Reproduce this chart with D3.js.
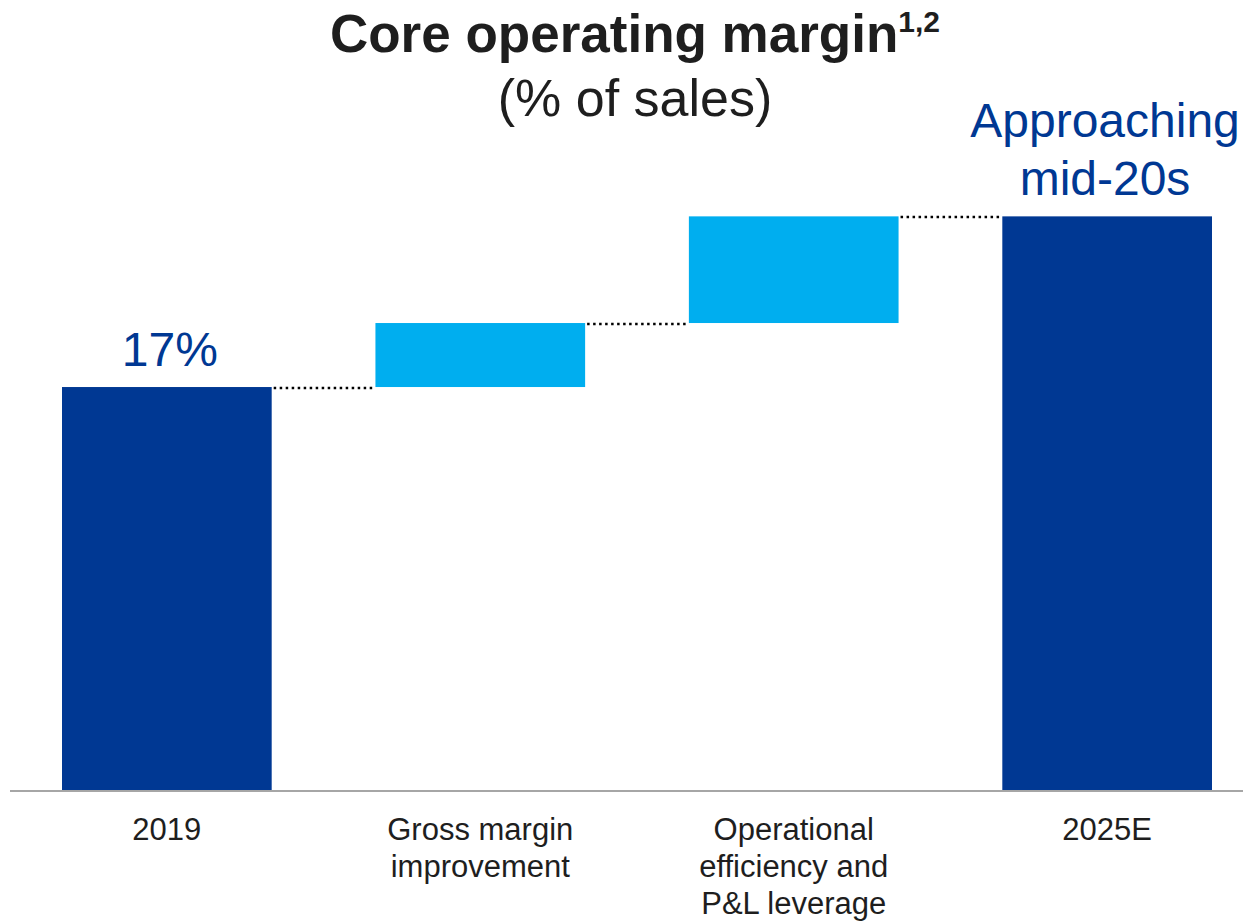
<!DOCTYPE html>
<html>
<head>
<meta charset="utf-8">
<script src="https://cdn.jsdelivr.net/npm/d3@7"></script>
<style>
  html, body { margin: 0; padding: 0; background: #fff; }
  svg { display: block; font-family: "Liberation Sans", Arial, Helvetica, sans-serif; }
</style>
</head>
<body>
<svg id="chart" width="1243" height="921"></svg>
<script>
// Waterfall: core operating margin bridge, 2019 -> 2025E
const categories = ["2019", "Gross margin improvement", "Operational efficiency and P&L leverage", "2025E"];
const categoryLines = [["2019"], ["Gross margin", "improvement"], ["Operational", "efficiency and", "P&L leverage"], ["2025E"]];
const values = [17, 2.7, 4.5, 24.2];
const kinds = ["total", "delta", "delta", "total"];
const valueLabels = [["17%"], [], [], ["Approaching", "mid-20s"]];

const W = 1243, H = 921;
const darkBlue = "#003893";
const lightBlue = "#00aeef";
const textColor = "#1e1e1e";

const svg = d3.select("#chart");

// Running totals for the floating bars
let running = 0;
const bars = categories.map((c, i) => {
  let lo, hi;
  if (kinds[i] === "total") { lo = 0; hi = values[i]; running = values[i]; }
  else { lo = running; hi = running + values[i]; running = hi; }
  return { cat: c, lines: categoryLines[i], lo, hi, kind: kinds[i], label: valueLabels[i] };
});

const x = d3.scaleBand().domain(categories).range([62, 1212]).paddingInner(0.331).paddingOuter(0);
const y = d3.scaleLinear().domain([0, 25]).range([790, 197.4]);

// Bars
svg.append("g").selectAll("rect").data(bars).join("rect")
  .attr("x", d => x(d.cat))
  .attr("width", x.bandwidth())
  .attr("y", d => y(d.hi))
  .attr("height", d => y(d.lo) - y(d.hi))
  .attr("fill", d => d.kind === "total" ? darkBlue : lightBlue);

// Dotted connectors between consecutive bar tops
const links = bars.slice(0, -1).map((d, i) => ({ from: d, to: bars[i + 1] }));
svg.append("g").selectAll("line").data(links).join("line")
  .attr("x1", d => x(d.from.cat) + x.bandwidth() + 2)
  .attr("x2", d => x(d.to.cat))
  .attr("y1", d => Math.round(y(d.from.hi)) + 1)
  .attr("y2", d => Math.round(y(d.from.hi)) + 1)
  .attr("stroke", "#000")
  .attr("stroke-width", 2.5)
  .attr("stroke-dasharray", "2.5,3.5");

// Baseline
svg.append("line")
  .attr("x1", 10).attr("x2", W)
  .attr("y1", y(0) + 1).attr("y2", y(0) + 1)
  .attr("stroke", "#a6a6a6").attr("stroke-width", 2);

// Category labels
const catG = svg.append("g").selectAll("text").data(bars).join("text")
  .attr("x", d => x(d.cat) + x.bandwidth() / 2)
  .attr("y", 840)
  .attr("text-anchor", "middle")
  .attr("font-size", 31)
  .attr("fill", textColor);
catG.selectAll("tspan").data(d => d.lines.map(l => ({ l, cx: x(d.cat) + x.bandwidth() / 2 }))).join("tspan")
  .attr("x", d => d.cx)
  .attr("dy", (d, i) => i === 0 ? 0 : 37)
  .text(d => d.l);

// Value labels above total bars (kept inside the right edge)
const labelX = d => Math.min(x(d.cat) + x.bandwidth() / 2 + 3, W - 138);
const valG = svg.append("g").selectAll("text").data(bars.filter(d => d.label.length)).join("text")
  .attr("x", labelX)
  .attr("y", d => y(d.hi) - 21 - (d.label.length - 1) * 58)
  .attr("text-anchor", "middle")
  .attr("font-size", 48)
  .attr("fill", darkBlue);
valG.selectAll("tspan").data(d => d.label.map(l => ({ l, cx: labelX(d) }))).join("tspan")
  .attr("x", d => d.cx)
  .attr("dy", (d, i) => i === 0 ? 0 : 58)
  .text(d => d.l);

// Title and subtitle
const title = svg.append("text")
  .attr("x", 635).attr("y", 52)
  .attr("text-anchor", "middle")
  .attr("font-weight", "bold")
  .attr("font-size", 53)
  .attr("fill", textColor);
title.append("tspan").text("Core operating margin");
title.append("tspan").attr("font-size", 30).attr("dy", -20).text("1,2");

svg.append("text")
  .attr("x", 635).attr("y", 116)
  .attr("text-anchor", "middle")
  .attr("font-size", 52)
  .attr("fill", textColor)
  .text("(% of sales)");
</script>
</body>
</html>
